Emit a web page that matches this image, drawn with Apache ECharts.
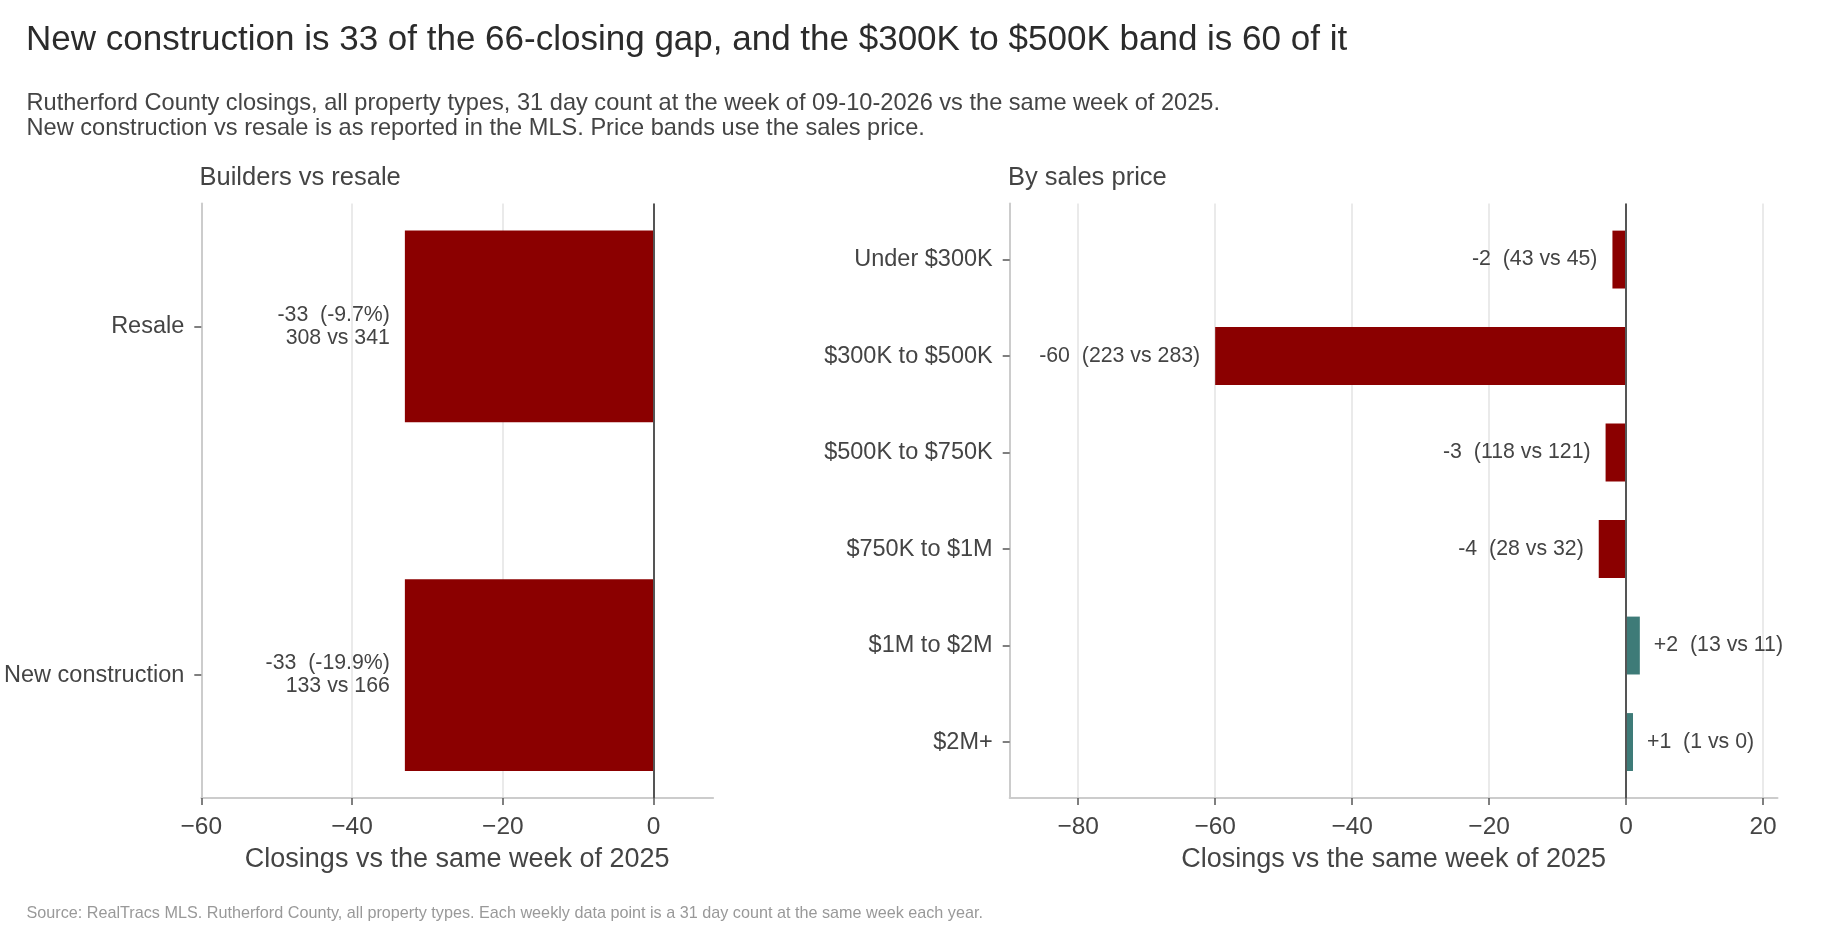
<!DOCTYPE html>
<html>
<head>
<meta charset="utf-8">
<script src="https://cdn.jsdelivr.net/npm/echarts@6/dist/echarts.min.js"></script>
<style>
html,body{margin:0;padding:0;background:#fff;}
#chart{width:1824px;height:928px;}
</style>
</head>
<body>
<div id="chart"></div>
<script>
// ---- data ----
const builderCats = ['Resale', 'New construction'];
const builderDelta = [-33, -33];
const builderPct = [-9.7, -19.9];
const builderNow = [308, 133];
const builderPrior = [341, 166];

const priceCats = ['Under $300K', '$300K to $500K', '$500K to $750K', '$750K to $1M', '$1M to $2M', '$2M+'];
const priceDelta = [-2, -60, -3, -4, 2, 1];
const priceNow = [43, 223, 118, 28, 13, 1];
const pricePrior = [45, 283, 121, 32, 11, 0];

const leftTicks = [-60, -40, -20, 0];
const rightTicks = [-80, -60, -40, -20, 0, 20];

const titleText = 'New construction is 33 of the 66-closing gap, and the $300K to $500K band is 60 of it';
const subText = 'Rutherford County closings, all property types, 31 day count at the week of 09-10-2026 vs the same week of 2025.\nNew construction vs resale is as reported in the MLS. Price bands use the sales price.';
const sourceText = 'Source: RealTracs MLS. Rutherford County, all property types. Each weekly data point is a 31 day count at the same week each year.';
const axisTitle = 'Closings vs the same week of 2025';

// ---- style ----
const FONT = '"Liberation Sans", Arial, Helvetica, sans-serif';
const RED = '#8b0000';
const TEAL = '#3e7b78';
const TXT = '#444444';

const sgn = v => (v > 0 ? '+' + v : String(v));
const builderLabels = builderDelta.map((d, i) => sgn(d) + '  (' + builderPct[i].toFixed(1) + '%)\n' + builderNow[i] + ' vs ' + builderPrior[i]);
const priceLabels = priceDelta.map((d, i) => sgn(d) + '  (' + priceNow[i] + ' vs ' + pricePrior[i] + ')');

function makeRender(barH, labels) {
  return function (params, api) {
    const v = api.value(0), i = api.value(1);
    const p0 = api.coord([0, i]);
    const p1 = api.coord([v, i]);
    const h = api.size([0, barH])[1];
    const neg = v < 0;
    return {
      type: 'group',
      children: [
        { type: 'rect', shape: { x: Math.min(p0[0], p1[0]), y: p0[1] - h / 2, width: Math.abs(p1[0] - p0[0]), height: h },
          style: { fill: neg ? RED : TEAL } },
        { type: 'text', x: neg ? p1[0] - 15 : p1[0] + 14, y: p0[1],
          style: { text: labels[params.dataIndex], fill: TXT, fontSize: 21.3, fontFamily: FONT,
                   align: neg ? 'right' : 'left', verticalAlign: 'middle', lineHeight: 23 } }
      ]
    };
  };
}

const minusFmt = v => (v < 0 ? '\u2212' + Math.abs(v) : String(v));

function xAxisFor(gi, min, max, ticks) {
  return {
    gridIndex: gi, type: 'value', min: min, max: max,
    name: axisTitle, nameLocation: 'middle', nameGap: 48.5,
    nameTextStyle: { fontSize: 27, color: TXT, fontFamily: FONT },
    axisLine: { show: true, onZero: false, lineStyle: { color: '#cccccc', width: 2 } },
    axisTick: { show: true, length: 7, customValues: ticks, lineStyle: { color: '#555555', width: 1.5 } },
    axisLabel: { customValues: ticks, formatter: minusFmt, fontSize: 24.5, color: TXT, fontFamily: FONT, margin: 16.5 },
    splitLine: { show: true, customValues: ticks, lineStyle: { color: '#e3e3e3', width: 1.5 } }
  };
}

function yAxisFor(gi, min, max, cats) {
  const vals = cats.map((c, i) => i);
  return {
    gridIndex: gi, type: 'value', inverse: true, min: min, max: max,
    axisLine: { show: true, onZero: false, lineStyle: { color: '#cccccc', width: 2 } },
    axisTick: { show: true, length: 7, customValues: vals, lineStyle: { color: '#555555', width: 1.5 } },
    axisLabel: { customValues: vals, formatter: v => cats[Math.round(v)], fontSize: 23.5, color: TXT, fontFamily: FONT, margin: 17 },
    splitLine: { show: false }
  };
}

const zeroLine = {
  silent: true, symbol: ['none', 'none'], label: { show: false }, animation: false,
  lineStyle: { color: '#555555', width: 2, type: 'solid' },
  data: [{ xAxis: 0 }]
};

const chart = echarts.init(document.getElementById('chart'), null, { renderer: 'canvas' });
chart.setOption({
  animation: false,
  backgroundColor: '#ffffff',
  textStyle: { fontFamily: FONT },
  title: [
    { text: titleText, left: 26, top: 23, padding: 0, textStyle: { fontSize: 35, lineHeight: 35, fontWeight: 'normal', color: '#2b2b2b', fontFamily: FONT } },
    { text: subText, left: 26.5, top: 90.5, padding: 0, textStyle: { fontSize: 23.6, fontWeight: 'normal', color: TXT, lineHeight: 25, fontFamily: FONT } },
    { text: 'Builders vs resale', left: 199.5, top: 165, padding: 0, textStyle: { fontSize: 25.5, lineHeight: 25.5, fontWeight: 'normal', color: TXT, fontFamily: FONT } },
    { text: 'By sales price', left: 1008, top: 165, padding: 0, textStyle: { fontSize: 25.5, lineHeight: 25.5, fontWeight: 'normal', color: TXT, fontFamily: FONT } },
    { text: sourceText, left: 26.5, top: 905.5, padding: 0, textStyle: { fontSize: 16.2, lineHeight: 16.2, fontWeight: 'normal', color: '#999999', fontFamily: FONT } }
  ],
  grid: [
    { left: 201.3, top: 203.6, width: 511.8, height: 594.4 },
    { left: 1009.7, top: 203.6, width: 767.8, height: 594.4 }
  ],
  xAxis: [
    xAxisFor(0, -60, 7.88, leftTicks),
    xAxisFor(1, -90, 22.1, rightTicks)
  ],
  yAxis: [
    yAxisFor(0, -0.3525, 1.3525, builderCats),
    yAxisFor(1, -0.58, 5.58, priceCats)
  ],
  series: [
    { type: 'custom', xAxisIndex: 0, yAxisIndex: 0, renderItem: makeRender(0.55, builderLabels),
      encode: { x: 0, y: 1 }, data: builderDelta.map((d, i) => [d, i]), markLine: zeroLine, z: 3 },
    { type: 'custom', xAxisIndex: 1, yAxisIndex: 1, renderItem: makeRender(0.6, priceLabels),
      encode: { x: 0, y: 1 }, data: priceDelta.map((d, i) => [d, i]), markLine: zeroLine, z: 3 }
  ]
});
</script>
</body>
</html>
